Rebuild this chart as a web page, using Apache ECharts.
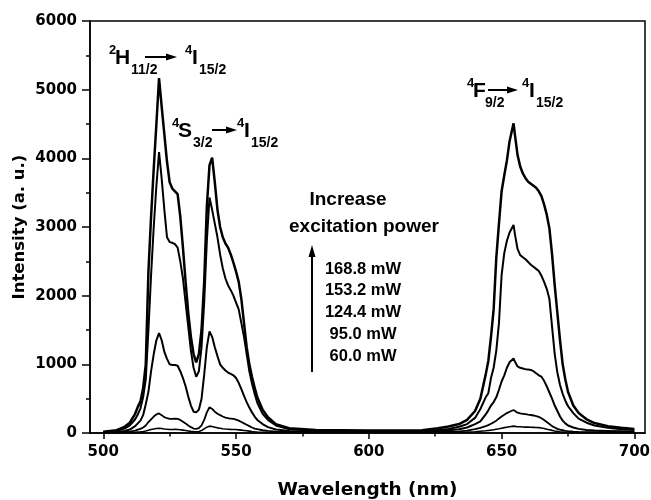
<!DOCTYPE html>
<html>
<head>
<meta charset="utf-8">
<script src="https://cdn.jsdelivr.net/npm/echarts@6/dist/echarts.min.js"></script>
<style>
  html, body { margin: 0; padding: 0; background: #fff; }
  #chart { width: 651px; height: 500px; }
</style>
</head>
<body>
<div id="chart"></div>
<script>
// wavelength (nm), shared by all spectra
const wl = [
  500, 505, 508, 510, 512, 513, 514, 515, 516,
  517, 518, 519, 520, 521, 522, 523, 524, 525, 526,
  527, 528, 529, 530, 531, 532, 533, 534, 535, 536,
  537, 538, 539, 540, 541, 542, 543, 544, 545, 546,
  547, 548, 549, 550, 551, 552, 553, 554, 555, 556,
  557, 558, 560, 562, 565, 570, 580, 590, 600, 610, 620, 626,
  630, 634, 637, 640, 642, 644, 645, 646, 647, 648,
  649, 650, 651, 652, 653, 654.5, 655, 656, 657, 658,
  659, 660, 661, 662, 663, 664, 665, 666, 667, 668,
  669, 670, 671, 672, 673, 674, 675, 677, 679, 682,
  685, 690, 695, 700
];

const p168 = [
  20, 40, 90, 150, 280, 380, 460, 650, 1000,
  2350, 3150, 3850, 4500, 5170, 4750, 4350, 3950, 3650, 3560,
  3520, 3480, 3150, 2700, 2200, 1750, 1400, 1150, 1030, 1150,
  1500, 2200, 3300, 3900, 4010, 3650, 3250, 3000, 2850, 2760,
  2700, 2600, 2480, 2350, 2200, 1950, 1600, 1250, 1000, 820,
  660, 520, 340, 230, 130, 70, 45, 40, 35, 35, 40, 70,
  95, 130, 190, 320, 500, 850, 1050, 1400, 1800, 2550,
  3050, 3520, 3750, 3970, 4250, 4510, 4350, 4050, 3880, 3780,
  3710, 3660, 3630, 3600, 3570, 3520, 3450, 3330, 3180, 2980,
  2600, 2150, 1750, 1350, 1000, 780, 600, 400, 290, 200,
  145, 100, 75, 60
];

const p153 = [
  15, 30, 65, 110, 200, 270, 360, 520, 780,
  1500, 2300, 3000, 3600, 4090, 3700, 3250, 2850, 2780, 2770,
  2750, 2700, 2500, 2250, 1900, 1550, 1200, 950, 820, 900,
  1250, 1900, 2800, 3430, 3250, 3050, 2850, 2600, 2400, 2250,
  2150, 2080, 2000, 1900, 1800, 1600, 1400, 1150, 900, 720,
  570, 440, 280, 190, 110, 55, 35, 30, 28, 28, 32, 45,
  60, 90, 130, 220, 350, 520, 580, 800, 950, 1200,
  1600, 2300, 2620, 2800, 2920, 3030, 2900, 2680, 2590, 2560,
  2530, 2490, 2450, 2420, 2390, 2360, 2290, 2200, 2100, 1950,
  1550, 1150, 880, 700, 570, 470, 390, 290, 210, 150,
  110, 75, 55, 45
];

const p124 = [
  10, 15, 30, 50, 100, 140, 180, 260, 420,
  600, 900, 1150, 1350, 1456, 1350, 1180, 1080, 1000, 990,
  990, 980, 900, 800, 680, 530, 400, 310, 300, 340,
  500, 850, 1250, 1480, 1400, 1250, 1120, 1000, 950, 910,
  880, 860, 840, 800, 730, 640, 540, 450, 370, 300,
  240, 190, 130, 85, 50, 30, 22, 20, 20, 20, 22, 30,
  40, 55, 80, 130, 170, 270, 330, 400, 450, 520,
  630, 750, 840, 950, 1030, 1087, 1040, 970, 950, 940,
  930, 925, 918, 900, 870, 840, 820, 760, 680, 590,
  500, 400, 320, 240, 180, 140, 110, 80, 60, 45,
  35, 30, 25, 20
];

const p95 = [
  5, 8, 12, 20, 35, 50, 60, 80, 110,
  160, 200, 240, 270, 285, 260, 230, 215, 205, 205,
  210, 205, 190, 165, 140, 110, 85, 65, 60, 70,
  110, 190, 300, 375, 350, 310, 280, 260, 240, 225,
  215, 210, 205, 195, 180, 160, 140, 120, 100, 80,
  65, 55, 40, 30, 20, 15, 12, 12, 12, 12, 12, 15,
  18, 25, 35, 55, 75, 100, 115, 135, 155, 180,
  210, 240, 265, 290, 310, 335, 320, 295, 285, 280,
  275, 268, 262, 255, 245, 235, 215, 190, 160, 130,
  100, 80, 60, 48, 40, 32, 27, 20, 16, 14,
  12, 12, 12, 12
];

const p60 = [
  3, 4, 5, 7, 12, 15, 18, 22, 30,
  40, 50, 58, 65, 70, 65, 58, 55, 52, 52,
  53, 52, 48, 42, 36, 30, 24, 20, 18, 22,
  35, 60, 85, 100, 95, 85, 75, 68, 62, 58,
  55, 53, 52, 50, 46, 42, 37, 32, 27, 22,
  18, 15, 12, 10, 8, 6, 5, 5, 5, 5, 5, 6,
  8, 10, 13, 18, 25, 32, 37, 42, 48, 55,
  62, 70, 78, 85, 92, 100, 97, 92, 90, 88,
  86, 85, 83, 82, 80, 78, 72, 65, 56, 47,
  38, 30, 24, 19, 15, 12, 10, 8, 7, 6,
  5, 5, 5, 5
];

const powers = ['168.8 mW', '153.2 mW', '124.4 mW', '95.0 mW', '60.0 mW'];
const spectra = [p168, p153, p124, p95, p60];
const widths = [2.5, 2, 2, 1.8, 1.6];

const xMajor = [500, 550, 600, 650, 700];
const xMinor = [525, 575, 625, 675];

const tickFont = { fontFamily: 'DejaVu Sans', fontWeight: 'bold', fontSize: 15, color: '#000' };
const annFont = 'Liberation Sans';

function txt(x, y, text, size) {
  return {
    type: 'text', x: x, y: y, z: 100,
    style: { text: text, fill: '#000', fontFamily: annFont, fontWeight: 'bold',
             fontSize: size, align: 'left', verticalAlign: 'middle' }
  };
}
function hArrow(x1, x2, y) {
  return [
    { type: 'line', z: 100, shape: { x1: x1, y1: y, x2: x2 - 8, y2: y },
      style: { stroke: '#000', lineWidth: 2 } },
    { type: 'polygon', z: 100, shape: { points: [[x2 - 11, y - 3.5], [x2, y], [x2 - 11, y + 3.5]] },
      style: { fill: '#000' } }
  ];
}
// level label: sup, base, sub, arrow, sup, base, sub
function transition(g) {
  return [
    txt(g.x0, g.y - 8, g.sup1, 13),
    txt(g.x0 + 6, g.y, g.base1, 21),
    txt(g.xs1, g.y + 12, g.sub1, 14),
    ...hArrow(g.a1, g.a2, g.y - 1),
    txt(g.x2, g.y - 8, '4', 13),
    txt(g.x2 + 7, g.y, 'I', 21),
    txt(g.x2 + 14, g.y + 12, '15/2', 14)
  ];
}

const graphics = [
  ...transition({ x0: 109, y: 58, sup1: '2', base1: 'H', xs1: 131, sub1: '11/2', a1: 145, a2: 177, x2: 185 }),
  ...transition({ x0: 172, y: 131, sup1: '4', base1: 'S', xs1: 193, sub1: '3/2', a1: 212, a2: 237, x2: 237 }),
  ...transition({ x0: 467, y: 91, sup1: '4', base1: 'F', xs1: 485, sub1: '9/2', a1: 488, a2: 518, x2: 522 }),
  { type: 'text', x: 348, y: 200, z: 100,
    style: { text: 'Increase', fill: '#000', fontFamily: annFont, fontWeight: 'bold', fontSize: 19,
             align: 'center', verticalAlign: 'middle' } },
  { type: 'text', x: 364, y: 227, z: 100,
    style: { text: 'excitation power', fill: '#000', fontFamily: annFont, fontWeight: 'bold', fontSize: 19,
             align: 'center', verticalAlign: 'middle' } },
  { type: 'line', z: 100, shape: { x1: 312, y1: 372, x2: 312, y2: 252 },
    style: { stroke: '#000', lineWidth: 2 } },
  { type: 'polygon', z: 100, shape: { points: [[308.5, 257], [312, 245], [315.5, 257]] },
    style: { fill: '#000' } }
];
powers.forEach(function (p, i) {
  graphics.push({ type: 'text', x: 363, y: 269 + i * 21.8, z: 100,
    style: { text: p, fill: '#000', fontFamily: annFont, fontWeight: 'bold', fontSize: 16.5,
             align: 'center', verticalAlign: 'middle' } });
});

const chart = echarts.init(document.getElementById('chart'));
chart.setOption({
  animation: false,
  backgroundColor: '#fff',
  grid: { left: 90, right: 6, top: 21, bottom: 67, show: true, borderColor: '#000', borderWidth: 1.5,
          containLabel: false, outerBoundsMode: 'none' },
  xAxis: [
    {
      type: 'value', min: 495, max: 704,
      name: 'Wavelength (nm)', nameLocation: 'middle', nameGap: 48,
      nameTextStyle: { fontFamily: 'DejaVu Sans', fontWeight: 'bold', fontSize: 18.5, color: '#000' },
      axisLine: { lineStyle: { color: '#000', width: 1.5 } },
      axisTick: { customValues: xMajor, length: 6, lineStyle: { color: '#000', width: 1.5 } },
      axisLabel: Object.assign({ customValues: xMajor, margin: 12, formatter: function (v) { return String(v); } }, tickFont),
      splitLine: { show: false }
    },
    {
      type: 'value', min: 495, max: 704, position: 'bottom',
      axisLine: { show: false },
      axisTick: { customValues: xMinor, length: 3.5, lineStyle: { color: '#000', width: 1.5 } },
      axisLabel: { show: false },
      splitLine: { show: false }
    }
  ],
  yAxis: {
    type: 'value', min: 0, max: 6000, interval: 1000,
    name: 'Intensity (a. u.)', nameLocation: 'middle', nameGap: 62, nameMoveOverlap: false,
    nameTextStyle: { fontFamily: 'DejaVu Sans', fontWeight: 'bold', fontSize: 16.5, color: '#000' },
    axisLine: { show: true, lineStyle: { color: '#000', width: 1.5 } },
    axisTick: { length: 8, lineStyle: { color: '#000', width: 1.5 } },
    minorTick: { show: true, splitNumber: 2, length: 4, lineStyle: { color: '#000', width: 1.5 } },
    axisLabel: Object.assign({ margin: 13, formatter: function (v) { return String(v); } }, tickFont),
    splitLine: { show: false }
  },
  graphic: graphics,
  series: spectra.map(function (s, i) {
    return {
      name: powers[i], type: 'line', showSymbol: false, xAxisIndex: 0,
      data: wl.map(function (x, j) { return [x, s[j]]; }),
      lineStyle: { color: '#000', width: widths[i] }
    };
  })
});
</script>
</body>
</html>
